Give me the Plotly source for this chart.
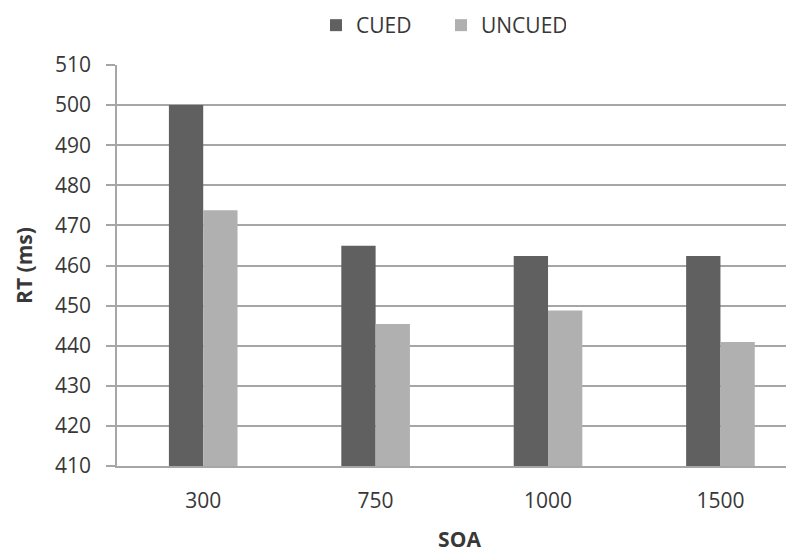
import plotly.graph_objects as go

categories = ["300", "750", "1000", "1500"]
cued = [500.0, 464.9, 462.4, 462.4]
uncued = [473.8, 445.4, 448.8, 440.9]
y_ticks = [410, 420, 430, 440, 450, 460, 470, 480, 490, 500, 510]

FONT = "Open Sans"
TXT = "#383838"
GRID = "#a6a6a6"
FS = 21

fig = go.Figure()
fig.add_trace(go.Bar(name="CUED", x=categories, y=cued, marker=dict(color="#606060", line=dict(width=0))))
fig.add_trace(go.Bar(name="UNCUED", x=categories, y=uncued, marker=dict(color="#b0b0b0", line=dict(width=0))))

fig.update_layout(
    width=794, height=552,
    margin=dict(l=109, r=0, t=57, b=94, autoexpand=False),
    paper_bgcolor="white", plot_bgcolor="white",
    barmode="group", bargap=0.602, bargroupgap=0,
    font=dict(family=FONT, size=FS, color=TXT),
    legend=dict(orientation="h", x=0.2905, y=1 - 17.5 / 552, xanchor="left", yanchor="middle",
                xref="paper", yref="container", font=dict(size=FS, color=TXT),
                entrywidth=80, entrywidthmode="pixels",
                traceorder="normal", itemclick=False),
    xaxis=dict(type="category", range=[-0.5, 3.473], showgrid=False,
               showline=True, linecolor=GRID, linewidth=1.5, ticks="",
               ticklabelstandoff=15, tickfont=dict(size=FS, color=TXT),
               title=dict(text="<b>SOA</b>", font=dict(size=FS, color=TXT), standoff=19)),
    yaxis=dict(range=[410, 510], tickvals=y_ticks, showgrid=True, gridcolor=GRID, gridwidth=1.5,
               showline=True, linecolor=GRID, linewidth=1.5, ticks="outside", ticklen=9,
               tickcolor=GRID, tickwidth=1.5, ticklabelstandoff=11,
               tickfont=dict(size=FS, color=TXT), zeroline=False,
               title=dict(text="<b>RT (ms)</b>", font=dict(size=FS, color=TXT), standoff=17)),
)
fig.write_html("out.html")
